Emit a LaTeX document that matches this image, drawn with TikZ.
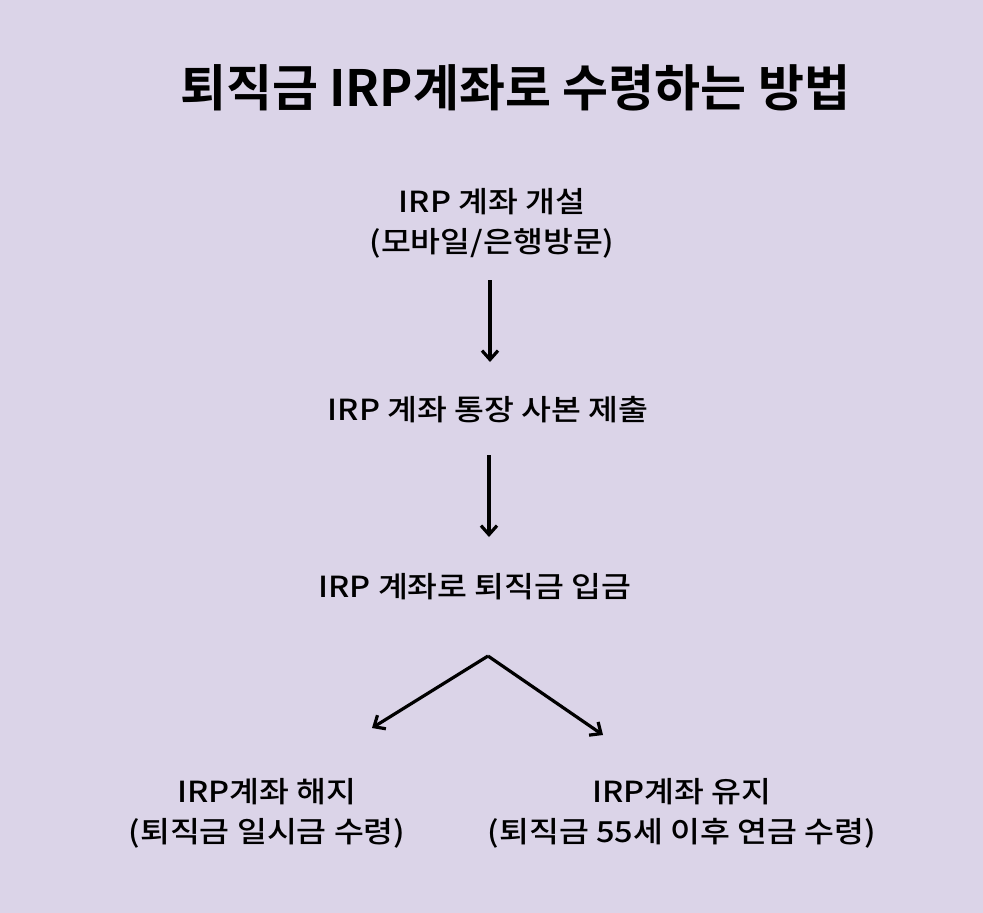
\documentclass[tikz,border=0pt]{standalone}
\usepackage{fontspec}
\setmainfont{Noto Sans CJK KR}
\newfontfamily\krbold{Noto Sans CJK KR Bold}
\newfontfamily\krhand[FakeStretch=1.12]{Noto Sans CJK KR Medium}
\usetikzlibrary{arrows.meta}
\definecolor{bgc}{RGB}{219,212,232}
\tikzset{
  lbl/.style={font=\krhand\fontsize{29}{40}\selectfont, align=center, inner sep=0pt, text=black},
  arr/.style={line width=3.2pt, -{Straight Barb[length=9pt,width=16pt,line width=3.2pt]}},
}
\begin{document}
\begin{tikzpicture}[x=1pt,y=-1pt]
\fill[bgc] (0,0) rectangle (983,913);
\useasboundingbox (0,0) rectangle (983,913);
\node[inner sep=0pt, font=\krbold\fontsize{50}{56}\selectfont] (title) at (515,88) {퇴직금 IRP계좌로 수령하는 방법};
\node[lbl] (n1) at (492,223) {IRP 계좌 개설\\(모바일/은행방문)};
\node[lbl] (n2) at (488,410) {IRP 계좌 통장 사본 제출};
\node[lbl] (n3) at (475,587) {IRP 계좌로 퇴직금 입금};
\node[lbl] (n4) at (267,813) {IRP계좌 해지\\(퇴직금 일시금 수령)};
\node[lbl] (n5) at (682,813) {IRP계좌 유지\\(퇴직금 55세 이후 연금 수령)};
\coordinate (s1) at (490,280);
\coordinate (e1) at (490,362);
\coordinate (s2) at (489,455);
\coordinate (e2) at (489,537);
\coordinate (split) at (488,656);
\coordinate (e4) at (372,728);
\coordinate (e5) at (603,735);
\draw[arr] (s1) -- (e1);
\draw[arr] (s2) -- (e2);
\draw[arr] (split) -- (e4);
\draw[arr] (split) -- (e5);
\end{tikzpicture}
\end{document}
